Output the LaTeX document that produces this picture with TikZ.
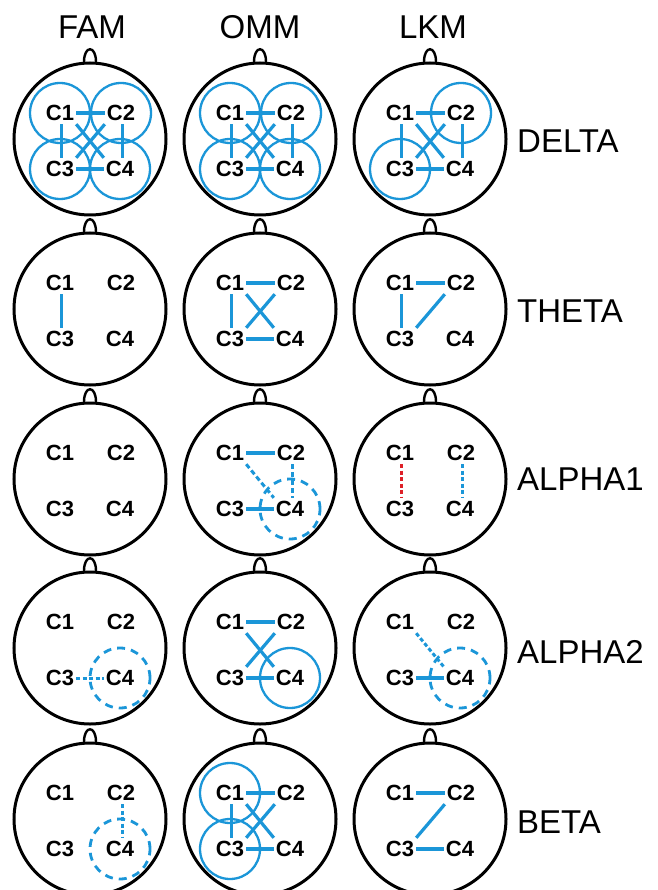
\documentclass[tikz,border=0pt]{standalone}
\usepackage{fontspec}
\setmainfont{Liberation Sans}
\usetikzlibrary{calc}
\definecolor{eegblue}{RGB}{27,150,216}
\definecolor{eegred}{RGB}{222,32,40}
\tikzset{
 headc/.style={draw=black, line width=3pt, circle, minimum size=152pt, inner sep=0pt},
 nosec/.style={draw=black, line width=2.4pt},
 elec/.style={font=\fontsize{22}{22}\selectfont\bfseries, minimum width=32pt, minimum height=22pt, inner sep=0pt},
 conn/.style={draw=eegblue, line width=3.2pt},
 dconn/.style={draw=eegblue, line width=3pt, dash pattern=on 5pt off 3pt},
 fconn/.style={draw=eegblue, line width=3pt, dash pattern=on 4pt off 2.5pt},
 rconn/.style={draw=eegred, line width=3pt, dash pattern=on 4pt off 2.5pt},
 ring/.style={draw=eegblue, line width=2.3pt, circle, minimum size=60pt, inner sep=0pt},
 dring/.style={draw=eegblue, line width=2.8pt, circle, minimum size=60pt, inner sep=0pt, dash pattern=on 8pt off 6pt},
 title/.style={font=\fontsize{33}{33}\selectfont, inner sep=0pt},
}
\newcommand\eeghead[3]{%
 \node[headc] (#1) at (#2,#3) {};
 \draw[nosec] ($(#1.north)+(-6,0.5)$) .. controls +(0,-17) and +(0,-17) .. ($(#1.north)+(6,0.5)$);
 \node[elec] (#1a) at ($(#1)+(-30,-26)$) {C1};
 \node[elec] (#1b) at ($(#1)+(31,-26)$) {C2};
 \node[elec] (#1c) at ($(#1)+(-30,30)$) {C3};
 \node[elec] (#1d) at ($(#1)+(30,30)$) {C4};
}
\newcommand\cnAB[2]{\draw[#1] (#2a.east) -- (#2b.west);}
\newcommand\cnCD[2]{\draw[#1] (#2c.east) -- (#2d.west);}
\newcommand\cnAC[2]{\draw[#1] ([xshift=1.5pt]#2a.south) -- ([xshift=1.5pt]#2a.south |- #2c.north);}
\newcommand\cnBD[2]{\draw[#1] ([xshift=1.5pt]#2b.south) -- ([xshift=1.5pt]#2b.south |- #2d.north);}
\newcommand\cnAD[2]{\draw[#1] (#2a.south east) -- (#2d.north west);}
\newcommand\cnBC[2]{\draw[#1] (#2b.south west) -- (#2c.north east);}
\newcommand\cnAll[1]{\cnAB{conn}{#1}\cnCD{conn}{#1}\cnAC{conn}{#1}\cnBD{conn}{#1}\cnAD{conn}{#1}\cnBC{conn}{#1}}
\begin{document}
\begin{tikzpicture}[x=1pt,y=-1pt]
\useasboundingbox (0,0) rectangle (657,890);
\clip (0,0) rectangle (657,890);
% column titles
\node[title] (tFAM) at (92,27) {FAM};
\node[title] (tOMM) at (260,27) {OMM};
\node[title] (tLKM) at (433,27) {LKM};
% row titles
\node[title, anchor=west] (rDelta) at (517,141) {DELTA};
\node[title, anchor=west] (rTheta) at (517,311) {THETA};
\node[title, anchor=west] (rAlphaA) at (517,479) {ALPHA1};
\node[title, anchor=west] (rAlphaB) at (517,652) {ALPHA2};
\node[title, anchor=west] (rBeta) at (517,822) {BETA};
% heads
\eeghead{dF}{90}{139}\eeghead{dO}{260}{139}\eeghead{dL}{430}{139}
\eeghead{tF}{90}{309}\eeghead{tO}{260}{309}\eeghead{tL}{430}{309}
\eeghead{aF}{90}{479}\eeghead{aO}{260}{479}\eeghead{aL}{430}{479}
\eeghead{bF}{90}{648}\eeghead{bO}{260}{648}\eeghead{bL}{430}{648}
\eeghead{eF}{90}{819}\eeghead{eO}{260}{819}\eeghead{eL}{430}{819}
% DELTA
\node[ring] (dFra) at (dFa) {};\node[ring] (dFrb) at (dFb) {};
\node[ring] (dFrc) at (dFc) {};\node[ring] (dFrd) at (dFd) {};
\cnAll{dF}
\node[ring] (dOra) at (dOa) {};\node[ring] (dOrb) at (dOb) {};
\node[ring] (dOrc) at (dOc) {};\node[ring] (dOrd) at (dOd) {};
\cnAll{dO}
\node[ring] (dLrb) at (dLb) {};\node[ring] (dLrc) at (dLc) {};
\cnAll{dL}
% THETA
\cnAC{conn}{tF}
\cnAB{conn}{tO}\cnAC{conn}{tO}\cnCD{conn}{tO}\cnAD{conn}{tO}\cnBC{conn}{tO}
\cnAB{conn}{tL}\cnAC{conn}{tL}\cnBC{conn}{tL}
% ALPHA1
\node[dring] (aOrd) at (aOd) {};
\cnAB{conn}{aO}\cnCD{conn}{aO}\cnAD{dconn}{aO}\cnBD{dconn}{aO}
\cnAC{rconn}{aL}\cnBD{fconn}{aL}
% ALPHA2
\node[dring] (bFrd) at (bFd) {};
\cnCD{fconn}{bF}
\node[ring] (bOrd) at (bOd) {};
\cnAB{conn}{bO}\cnCD{conn}{bO}\cnAD{conn}{bO}\cnBC{conn}{bO}
\node[dring] (bLrd) at (bLd) {};
\cnAD{fconn}{bL}\cnCD{conn}{bL}
% BETA
\node[dring] (eFrd) at (eFd) {};
\cnBD{fconn}{eF}
\node[ring] (eOra) at (eOa) {};\node[ring] (eOrc) at (eOc) {};
\cnAB{conn}{eO}\cnAC{conn}{eO}\cnCD{conn}{eO}\cnAD{conn}{eO}\cnBC{conn}{eO}
\cnAB{conn}{eL}\cnBC{conn}{eL}\cnCD{conn}{eL}
\end{tikzpicture}
\end{document}
